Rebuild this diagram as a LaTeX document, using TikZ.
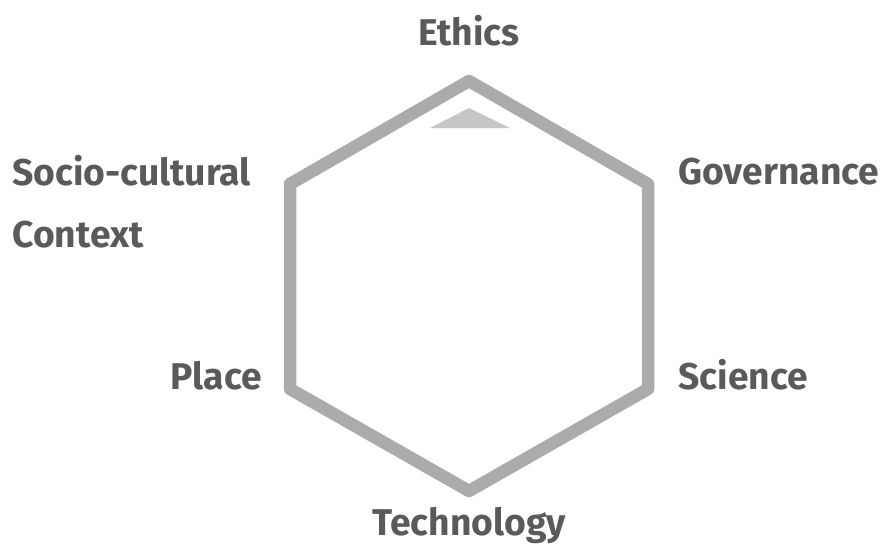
\documentclass[tikz,border=0pt]{standalone}
\usepackage{fontspec}
\setmainfont{Fira Sans}
\usepackage{tikz}
\usetikzlibrary{positioning}
\definecolor{rimgray}{HTML}{ABABAB}
\definecolor{tipgray}{HTML}{C6C6C6}
\definecolor{textgray}{HTML}{5A5A5A}

\begin{document}
\begin{tikzpicture}[
    x=0.02cm,
    y=-0.02cm,
    facet/.style={font=\bfseries\fontsize{21.2}{25}\selectfont, text=textgray, inner sep=0pt},
    rim/.style={draw=rimgray, line width=0.25cm, line join=round},
]
    \useasboundingbox (0,0) rectangle (882,555);
    % corners of the hexagon, clockwise from the top
    \foreach \n/\x/\y in {0/469/81, 1/648/184, 2/648/389, 3/469/491, 4/290/389, 5/290/184}
    {
      \coordinate (v\n) at (\x,\y);
    }
    \draw[rim] (v0) -- (v1) -- (v2) -- (v3) -- (v4) -- (v5) -- cycle;
    \fill[tipgray] (430,128) -- (469,108) -- (510,128) -- cycle;

    \node[facet, anchor=base] (ethics) at (469,45) {Ethics};
    \node[facet, anchor=base west] (governance) at (678,184) {Governance};
    \node[facet, anchor=base west] (science) at (678,389) {Science};
    \node[facet, anchor=base] (technology) at (469,535) {Technology};
    \node[facet, anchor=base east] (place) at (262,389) {Place};
    \node[facet, anchor=base west] (socio) at (12,185) {Socio-cultural};
    \node[facet, anchor=base west] (context) at (12,247) {Context};
\end{tikzpicture}
\end{document}
